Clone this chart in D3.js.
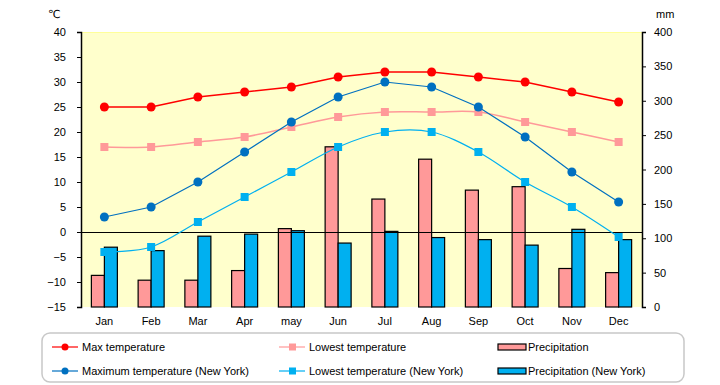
<!DOCTYPE html>
<html>
<head>
<meta charset="utf-8">
<script src="https://cdn.jsdelivr.net/npm/d3@7"></script>
<style>
  body { margin: 0; background: #fff; }
  svg { display: block; font-family: "Liberation Sans", "DejaVu Sans", sans-serif; }
</style>
</head>
<body>
<svg width="720" height="385"></svg>
<script>
const months = ["Jan", "Feb", "Mar", "Apr", "may", "Jun", "Jul", "Aug", "Sep", "Oct", "Nov", "Dec"];

// temperatures (left axis, degrees C)
const maxTemp = [25, 25, 27, 28, 29, 31, 32, 32, 31, 30, 28, 26];
const lowTemp = [17, 17, 18, 19, 21, 23, 24, 24, 24, 22, 20, 18];
const maxTempNY = [3, 5, 10, 16, 22, 27, 30, 29, 25, 19, 12, 6];
const lowTempNY = [-4, -3, 2, 7, 12, 17, 20, 20, 16, 10, 5, -1];

// precipitation (right axis, mm)
const precip = [46, 39, 39, 53, 114, 233, 157, 215, 170, 175, 56, 50];
const precipNY = [87, 82, 103, 106, 111, 93, 110, 101, 98, 90, 113, 98];

const leftTicks = [-15, -10, -5, 0, 5, 10, 15, 20, 25, 30, 35, 40];
const rightTicks = [0, 50, 100, 150, 200, 250, 300, 350, 400];

const margin = {left: 81, right: 78, top: 32, bottom: 78};
const W = 720, H = 385;
const svg = d3.select("svg");

const x = d3.scaleBand().domain(months).range([margin.left, W - margin.right]);
const yT = d3.scaleLinear().domain([-15, 40]).range([H - margin.bottom, margin.top]);
const yP = d3.scaleLinear().domain([0, 400]).range([H - margin.bottom, margin.top]);

// plot background
svg.append("rect")
  .attr("x", margin.left).attr("y", margin.top)
  .attr("width", x.range()[1] - margin.left)
  .attr("height", yT.range()[0] - margin.top)
  .attr("fill", "#ffffcc");
svg.append("line")
  .attr("x1", margin.left).attr("x2", x.range()[1])
  .attr("y1", margin.top + 0.5).attr("y2", margin.top + 0.5)
  .attr("stroke", "#ffff99");

// bars
const barW = 13;
const barGroups = [
  {vals: precip, fill: "#ff9999", off: -barW},
  {vals: precipNY, fill: "#00b0f0", off: 0}
];
barGroups.forEach(g => {
  svg.append("g").selectAll("rect")
    .data(g.vals)
    .join("rect")
    .attr("x", (d, i) => x(months[i]) + x.bandwidth() / 2 + g.off)
    .attr("y", d => yP(d))
    .attr("width", barW)
    .attr("height", d => yP(0) - yP(d))
    .attr("fill", g.fill)
    .attr("stroke", "#000")
    .attr("stroke-width", 1.2);
});

// zero line
svg.append("line")
  .attr("x1", margin.left).attr("x2", x.range()[1])
  .attr("y1", Math.round(yT(0)) + 0.5).attr("y2", Math.round(yT(0)) + 0.5)
  .attr("stroke", "#000");

// axes
const axL = svg.append("g")
  .attr("transform", `translate(${margin.left},0)`)
  .call(d3.axisLeft(yT).tickValues(leftTicks).tickSize(4).tickPadding(8));
const axR = svg.append("g")
  .attr("transform", `translate(${x.range()[1]},0)`)
  .call(d3.axisRight(yP).tickValues(rightTicks).tickSize(4).tickPadding(8));
[axL, axR].forEach(a => {
  a.select(".domain").attr("stroke", "#000").attr("stroke-width", 1.5);
  a.selectAll(".tick line").attr("stroke", "#000");
  a.selectAll(".tick text").attr("font-size", 11).attr("fill", "#000")
    .attr("font-family", "Liberation Sans, sans-serif");
});
axL.selectAll(".tick text").attr("dx", -3);

// month labels
svg.append("g").selectAll("text")
  .data(months)
  .join("text")
  .attr("x", d => x(d) + x.bandwidth() / 2)
  .attr("y", 325)
  .attr("text-anchor", "middle")
  .attr("font-size", 11)
  .text(d => d);

svg.append("text").attr("x", 48).attr("y", 18).attr("font-size", 11).text("℃");
svg.append("text").attr("x", 656).attr("y", 18).attr("font-size", 11).text("mm");

// temperature lines
const lines = [
  {vals: maxTemp, color: "#ff0000", shape: "circle", w: 1.5, smooth: false},
  {vals: lowTemp, color: "#ff9999", shape: "square", w: 1.5, smooth: true},
  {vals: maxTempNY, color: "#0070c0", shape: "circle", w: 1.2, smooth: false},
  {vals: lowTempNY, color: "#00b0f0", shape: "square", w: 1.2, smooth: true}
];
const lineGen = d3.line()
  .x((d, i) => x(months[i]) + x.bandwidth() / 2)
  .y(d => yT(d));

function marker(sel, shape, color, cx, cy) {
  if (shape === "circle") {
    sel.append("circle").attr("cx", cx).attr("cy", cy).attr("r", 4.5).attr("fill", color);
  } else {
    sel.append("rect").attr("x", cx - 4).attr("y", cy - 4).attr("width", 8).attr("height", 8).attr("fill", color);
  }
}

lines.forEach(l => {
  const g = svg.append("g");
  lineGen.curve(l.smooth ? d3.curveCatmullRom.alpha(0) : d3.curveLinear);
  g.append("path").attr("d", lineGen(l.vals))
    .attr("fill", "none").attr("stroke", l.color).attr("stroke-width", l.w);
  l.vals.forEach((v, i) => marker(g, l.shape, l.color, x(months[i]) + x.bandwidth() / 2, yT(v)));
});

// legend
svg.append("rect")
  .attr("x", 42).attr("y", 333).attr("width", 642).attr("height", 49)
  .attr("rx", 8).attr("fill", "#fff").attr("stroke", "#c8c8c8").attr("stroke-width", 1.5);

const legendItems = [
  {label: "Max temperature", type: "line", color: "#ff0000", shape: "circle", lx: 52, ly: 347},
  {label: "Maximum temperature (New York)", type: "line", color: "#0070c0", shape: "circle", lx: 52, ly: 371},
  {label: "Lowest temperature", type: "line", color: "#ff9999", shape: "square", lx: 279, ly: 347},
  {label: "Lowest temperature (New York)", type: "line", color: "#00b0f0", shape: "square", lx: 279, ly: 371},
  {label: "Precipitation", type: "bar", color: "#ff9999", lx: 498, ly: 347},
  {label: "Precipitation (New York)", type: "bar", color: "#00b0f0", lx: 498, ly: 371}
];
legendItems.forEach(d => {
  const g = svg.append("g");
  if (d.type === "line") {
    g.append("line").attr("x1", d.lx).attr("x2", d.lx + 26).attr("y1", d.ly).attr("y2", d.ly)
      .attr("stroke", d.color).attr("stroke-width", 1.2);
    marker(g, d.shape, d.color, d.lx + 13, d.ly);
    if (d.shape === "circle") g.select("circle").attr("r", 3.5);
    else g.select("rect").attr("x", d.lx + 10).attr("y", d.ly - 3.5).attr("width", 7).attr("height", 7);
  } else {
    g.append("rect").attr("x", d.lx).attr("y", d.ly - 3).attr("width", 28).attr("height", 6)
      .attr("fill", d.color).attr("stroke", "#000").attr("stroke-width", 1.2);
  }
  g.append("text").attr("x", d.lx + 30).attr("y", d.ly + 4)
    .attr("font-size", 11).text(d.label);
});
</script>
</body>
</html>
